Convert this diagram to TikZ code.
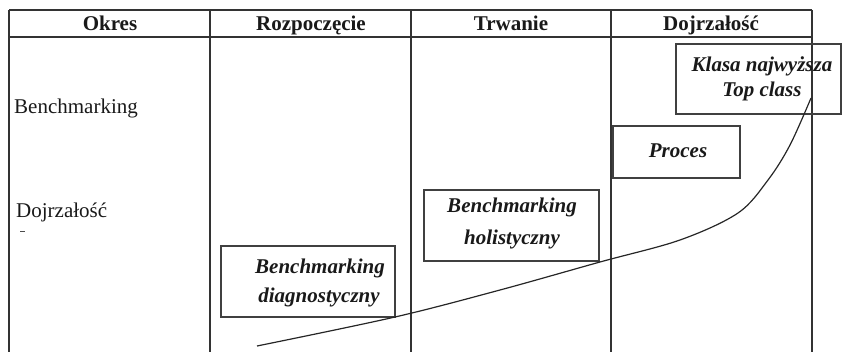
\documentclass[tikz,border=0pt]{standalone}
\usepackage{fontspec}
\setmainfont{Liberation Serif}
\begin{document}
\begin{tikzpicture}[x=1pt,y=-1pt,
  grid/.style={line width=2pt,draw=black!80},
  stagebox/.style={draw=black!75,line width=1.3pt,inner sep=0pt},
  head/.style={anchor=base,font=\fontsize{21}{25}\selectfont\bfseries,inner sep=0pt,text=black!90},
  rowlabel/.style={anchor=base west,font=\fontsize{21}{25}\selectfont,inner sep=0pt,text=black!90},
  tag/.style={anchor=base,font=\fontsize{21}{25}\selectfont\bfseries\itshape,inner sep=0pt,text=black!90},
  trend/.style={line width=1.2pt,draw=black!85}]
\useasboundingbox (0,0) rectangle (842,352);
% table frame
\draw[grid] (9,10) -- (812,10);
\draw[grid] (9,37) -- (812,37);
\foreach \x in {9,210,411,611,812} \draw[grid] (\x,10) -- (\x,352);
% column headings
\node[head] (hOkres) at (110,31) {Okres};
\node[head] (hStart) at (311,31) {Rozpoczęcie};
\node[head] (hDur) at (511,31) {Trwanie};
\node[head] (hMat) at (711,31) {Dojrzałość};
% row labels
\node[rowlabel] (rBench) at (14,114) {Benchmarking};
\node[rowlabel] (rMat) at (16,218) {Dojrzałość};
\draw[line width=1pt,black!70] (20,232) -- (25,232);
% stage boxes
\node[stagebox,minimum width=174pt,minimum height=71pt] (bDiag) at (308,281.5) {};
\node[stagebox,minimum width=175pt,minimum height=71pt] (bHol) at (511.5,225.5) {};
\node[stagebox,minimum width=127pt,minimum height=52pt] (bProc) at (676.5,152) {};
\node[stagebox,minimum width=165pt,minimum height=70pt] (bTop) at (758.5,79) {};
% stage labels
\node[tag] (tDiag1) at (320,273) {Benchmarking};
\node[tag] (tDiag2) at (319,302) {diagnostyczny};
\node[tag] (tHol1) at (512,213) {Benchmarking};
\node[tag] (tHol2) at (512,245) {holistyczny};
\node[tag] (tProc) at (678,158) {Proces};
\node[tag] (tTop1) at (762,72) {Klasa najwyższa};
\node[tag] (tTop2) at (762,97) {Top class};
% development curve
\coordinate (cStart) at (257,346);
\coordinate (cEnd) at (811,98);
\draw[trend] plot[smooth,tension=0.55] coordinates {(cStart) (395,317) (500,290) (600,262) (680,240) (738,213) (768,180) (790,145) (cEnd)};
\end{tikzpicture}
\end{document}
